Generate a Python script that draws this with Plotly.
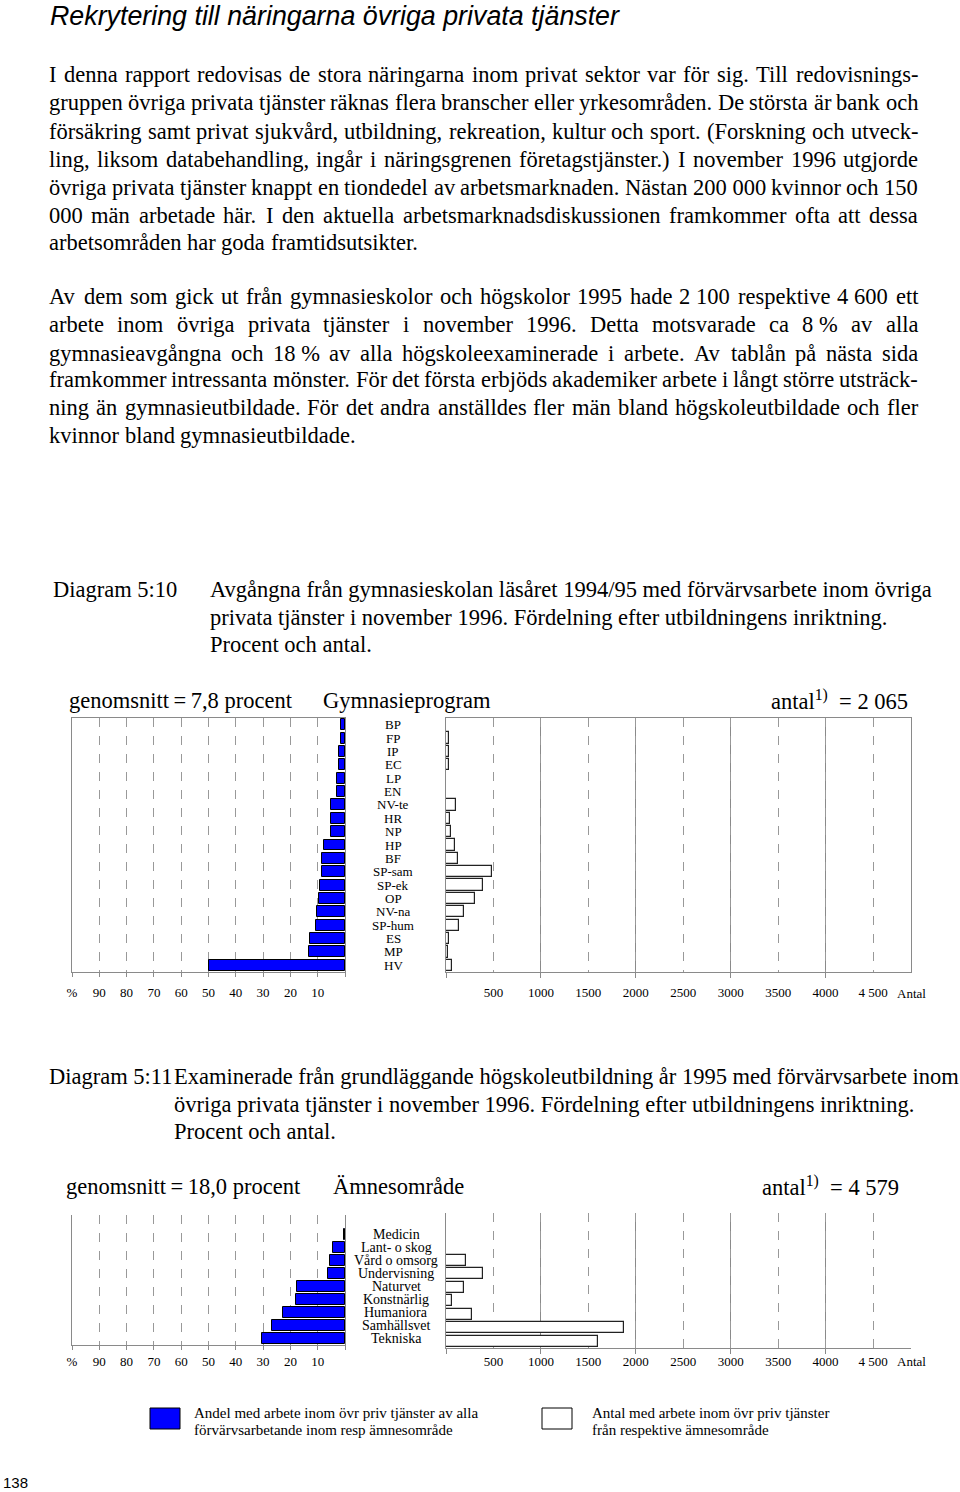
import plotly.graph_objects as go

W, H = 960, 1492

# ---------------- data ----------------
gym_programs = ["BP", "FP", "IP", "EC", "LP", "EN", "NV-te", "HR", "NP", "HP", "BF",
                "SP-sam", "SP-ek", "OP", "NV-na", "SP-hum", "ES", "MP", "HV"]
gym_share_pct = [1.6, 1.6, 2.1, 2.3, 2.9, 3.0, 5.1, 5.3, 5.3, 7.8, 8.4,
                 8.4, 9.3, 9.6, 10.3, 10.6, 12.7, 13.3, 50.0]
gym_count = [0, 28, 32, 28, 0, 0, 105, 39, 49, 95, 123,
             481, 393, 308, 186, 140, 32, 25, 66]

uni_fields = ["Medicin", "Lant- o skog", "Vård o omsorg", "Undervisning", "Naturvet",
              "Konstnärlig", "Humaniora", "Samhällsvet", "Tekniska"]
uni_share_pct = [0.4, 4.4, 5.4, 6.3, 17.7, 18.1, 22.7, 26.6, 30.5]
uni_count = [0, 0, 210, 386, 193, 66, 277, 1877, 1603]

pct_tickvals = [100, 90, 80, 70, 60, 50, 40, 30, 20, 10]
pct_ticktext = ["%", "90", "80", "70", "60", "50", "40", "30", "20", "10"]
count_tickvals = [500, 1000, 1500, 2000, 2500, 3000, 3500, 4000, 4500]
count_ticktext = ["500", "1000", "1500", "2000", "2500", "3000", "3500", "4000", "4 500"]
count_major = [0, 1000, 2000, 3000, 4000]

gym_avg, gym_total = "7,8", "2 065"
uni_avg, uni_total = "18,0", "4 579"

para1 = [
    "I denna rapport redovisas de stora näringarna inom privat sektor var för sig. Till redovisnings-",
    "gruppen övriga privata tjänster räknas flera branscher eller yrkesområden. De största är bank och",
    "försäkring samt privat sjukvård, utbildning, rekreation, kultur och sport. (Forskning och utveck-",
    "ling, liksom databehandling, ingår i näringsgrenen företagstjänster.) I november 1996 utgjorde",
    "övriga privata tjänster knappt en tiondedel av arbetsmarknaden. Nästan 200\u00a0000 kvinnor och 150",
    "000 män arbetade här. I den aktuella arbetsmarknadsdiskussionen framkommer ofta att dessa",
    "arbetsområden har goda framtidsutsikter.",
]
para2 = [
    "Av dem som gick ut från gymnasieskolor och högskolor 1995 hade 2\u00a0100 respektive 4\u00a0600 ett",
    "arbete inom övriga privata tjänster i november 1996. Detta motsvarade ca 8\u00a0% av alla",
    "gymnasieavgångna och 18\u00a0% av alla högskoleexaminerade i arbete. Av tablån på nästa sida",
    "framkommer intressanta mönster. För det första erbjöds akademiker arbete i långt större utsträck-",
    "ning än gymnasieutbildade. För det andra anställdes fler män bland högskoleutbildade och fler",
    "kvinnor bland gymnasieutbildade.",
]

BLUE = "#0000ff"
GRID = "#999999"
LINE = "#8a8a8a"
SERIF = "Liberation Serif"
BODY = 22.5

# ---------------- figure ----------------
fig = go.Figure()

gy = list(range(len(gym_programs)))
uy = list(range(len(uni_fields)))

fig.add_trace(go.Bar(x=gym_share_pct, y=gy, orientation="h", xaxis="x", yaxis="y",
                     marker=dict(color=BLUE, line=dict(color="black", width=1)), width=0.82,
                     hoverinfo="skip"))
fig.add_trace(go.Bar(x=gym_count, y=gy, orientation="h", xaxis="x2", yaxis="y2",
                     marker=dict(color="white", line=dict(color="#222222", width=1.2)), width=0.84,
                     hoverinfo="skip"))
fig.add_trace(go.Bar(x=uni_share_pct, y=uy, orientation="h", xaxis="x3", yaxis="y3",
                     marker=dict(color=BLUE, line=dict(color="black", width=1)), width=0.85,
                     hoverinfo="skip"))
fig.add_trace(go.Bar(x=uni_count, y=uy, orientation="h", xaxis="x4", yaxis="y4",
                     marker=dict(color="white", line=dict(color="#222222", width=1.2)), width=0.84,
                     hoverinfo="skip"))


def px_x(a, b):
    return [a / W, b / W]


def px_y(top, bottom):
    return [1 - bottom / H, 1 - top / H]


tickfont = dict(family=SERIF, size=13, color="black")

pct_axis = dict(range=[100, 0], tickvals=pct_tickvals, ticktext=pct_ticktext,
                showgrid=True, gridcolor=GRID, griddash="dash", gridwidth=1,
                zeroline=False, ticks="outside", ticklen=4, tickcolor=LINE,
                tickfont=tickfont, showline=True, linecolor=LINE,
                minor=dict(tickmode="array", tickvals=[0], showgrid=False, ticks="outside",
                           ticklen=4, tickcolor=LINE),
                fixedrange=True, automargin=False)
count_axis = dict(range=[0, 4900], tickvals=count_tickvals, ticktext=count_ticktext,
                  showgrid=True, gridcolor=GRID, griddash="dash", gridwidth=1,
                  zeroline=False, ticks="", tickfont=tickfont,
                  showline=True, linecolor=LINE,
                  minor=dict(tickmode="array", tickvals=count_major, showgrid=True,
                             gridcolor=LINE, griddash="solid", ticks="outside",
                             ticklen=5, tickcolor=LINE),
                  fixedrange=True, automargin=False)
cat_axis = dict(showticklabels=False, showgrid=False, zeroline=False, ticks="",
                showline=True, linecolor=LINE, fixedrange=True, automargin=False)

fig.update_layout(
    width=W, height=H, margin=dict(l=0, r=0, t=0, b=0, pad=0, autoexpand=False),
    paper_bgcolor="white", plot_bgcolor="white", showlegend=False, bargap=0,
    xaxis=dict(pct_axis, domain=px_x(72, 345), anchor="y", mirror=True, ticklabelstandoff=4),
    yaxis=dict(cat_axis, domain=px_y(718, 972), anchor="x", range=[18.5, -0.5], mirror=True),
    xaxis2=dict(count_axis, domain=px_x(446, 911), anchor="y2", mirror=True, ticklabelstandoff=8),
    yaxis2=dict(cat_axis, domain=px_y(718, 972), anchor="x2", range=[18.5, -0.5], mirror=True),
    xaxis3=dict(pct_axis, domain=px_x(72, 345), anchor="y3", mirror=False, ticklabelstandoff=0),
    yaxis3=dict(cat_axis, domain=px_y(1215, 1345), anchor="x3", range=[8.5, -1.5], mirror=True),
    xaxis4=dict(count_axis, domain=px_x(446, 911), anchor="y4", mirror=False, ticklabelstandoff=1),
    yaxis4=dict(cat_axis, domain=px_y(1213, 1348), anchor="x4", range=[8.5, -1.5], mirror=False),
)

ann = []


def txt(text, x, y, size=BODY, family=SERIF, xanchor="left", yanchor="middle", color="black"):
    ann.append(dict(text=text, x=x / W, y=1 - y / H, xref="paper", yref="paper",
                    xanchor=xanchor, yanchor=yanchor, showarrow=False, borderpad=0,
                    font=dict(family=family, size=size, color=color)))


# Times metrics (per 1000 em)
TW = {' ': 250, '\u00a0': 250, '!': 333, '%': 833, '(': 333, ')': 333, ',': 250, '-': 333,
      '.': 250, '/': 278, ':': 278, ';': 278, '=': 564, '?': 444}
for c in "0123456789":
    TW[c] = 500
TW.update({'A': 722, 'B': 667, 'C': 667, 'D': 722, 'E': 611, 'F': 556, 'G': 722, 'H': 722,
           'I': 333, 'J': 389, 'K': 722, 'L': 611, 'M': 889, 'N': 722, 'O': 722, 'P': 556,
           'Q': 722, 'R': 667, 'S': 556, 'T': 611, 'U': 722, 'V': 722, 'W': 944, 'X': 722,
           'Y': 722, 'Z': 611, 'Ä': 722, 'Å': 722, 'Ö': 722,
           'a': 444, 'b': 500, 'c': 444, 'd': 500, 'e': 444, 'f': 333, 'g': 500, 'h': 500,
           'i': 278, 'j': 278, 'k': 500, 'l': 278, 'm': 778, 'n': 500, 'o': 500, 'p': 500,
           'q': 500, 'r': 333, 's': 389, 't': 278, 'u': 500, 'v': 500, 'w': 722, 'x': 500,
           'y': 500, 'z': 444, 'ä': 444, 'å': 444, 'ö': 500, 'é': 444})


def tw(s, size):
    return sum(TW.get(c, 500) for c in s) * size / 1000.0


def body_line(line, y, justify, x0=48, x1=917, size=BODY):
    words = line.split(" ")
    widths = [tw(w, size) for w in words]
    if justify and len(words) > 1:
        gap = (x1 - x0 - sum(widths)) / (len(words) - 1)
    else:
        gap = tw(" ", size)
    x = x0
    for w, wd in zip(words, widths):
        txt(w, x, y, size=size)
        x += wd + gap


# title
txt("<i>Rekrytering till näringarna övriga privata tjänster</i>", 49, 0, size=26.8,
    family="Liberation Sans", yanchor="top")

for i, (line, y) in enumerate(zip(para1, [75, 103, 131, 159, 187, 215, 242])):
    body_line(line, y, justify=(i < len(para1) - 1))
for i, (line, y) in enumerate(zip(para2, [297, 325, 353, 380, 408, 436])):
    body_line(line, y, justify=(i < len(para2) - 1))

# captions
txt("Diagram 5:10", 52, 589)
txt("Avgångna från gymnasieskolan läsåret 1994/95 med förvärvsarbete inom övriga", 209, 589)
txt("privata tjänster i november 1996. Fördelning efter utbildningens inriktning.", 209, 617)
txt("Procent och antal.", 209, 644)

txt("Diagram 5:11", 48, 1076)
txt("Examinerade från grundläggande högskoleutbildning år 1995 med förvärvsarbete inom", 173, 1076)
txt("övriga privata tjänster i november 1996. Fördelning efter utbildningens inriktning.", 173, 1104)
txt("Procent och antal.", 173, 1131)

# chart headers
txt(f"genomsnitt\u2009=\u2009{gym_avg} procent", 68, 700)
txt("Gymnasieprogram", 322, 700)
txt(f"antal<sup>1)</sup>  = {gym_total}", 909, 700, xanchor="right")
txt(f"genomsnitt\u2009=\u2009{uni_avg} procent", 65, 1186)
txt("Ämnesområde", 332, 1186)
txt(f"antal<sup>1)</sup>  = {uni_total}", 900, 1186, xanchor="right")

# category labels between panels
for i, lab in enumerate(gym_programs):
    ann.append(dict(text=lab, x=393 / W, y=i, xref="paper", yref="y", xanchor="center",
                    yanchor="middle", showarrow=False, borderpad=0,
                    font=dict(family=SERIF, size=13, color="black")))
for i, lab in enumerate(uni_fields):
    ann.append(dict(text=lab, x=396 / W, y=i, xref="paper", yref="y3", xanchor="center",
                    yanchor="middle", showarrow=False, borderpad=0,
                    font=dict(family=SERIF, size=14, color="black")))

# "Antal" at axis ends
for xr, yy in (("x2", 993), ("x4", 1361)):
    ann.append(dict(text="Antal", x=1, xref=f"{xr} domain", y=1 - yy / H, yref="paper",
                    xanchor="center", yanchor="middle", showarrow=False, borderpad=0,
                    font=tickfont))

# legend
shapes = [
    dict(type="rect", xref="paper", yref="paper", x0=150 / W, x1=180 / W,
         y0=1 - 1429 / H, y1=1 - 1408 / H, fillcolor=BLUE, line=dict(color="black", width=1)),
    dict(type="rect", xref="paper", yref="paper", x0=542 / W, x1=572 / W,
         y0=1 - 1429 / H, y1=1 - 1408 / H, fillcolor="white", line=dict(color="black", width=1)),
]
txt("Andel med arbete inom övr priv tjänster av alla", 193, 1413, size=15)
txt("förvärvsarbetande inom resp ämnesområde", 193, 1430, size=15)
txt("Antal med arbete inom övr priv tjänster", 591, 1413, size=15)
txt("från respektive ämnesområde", 591, 1430, size=15)

# page number
txt("138", 2, 1482, size=15, family="Liberation Sans")

fig.update_layout(annotations=ann, shapes=shapes)
fig.write_html("out.html")
